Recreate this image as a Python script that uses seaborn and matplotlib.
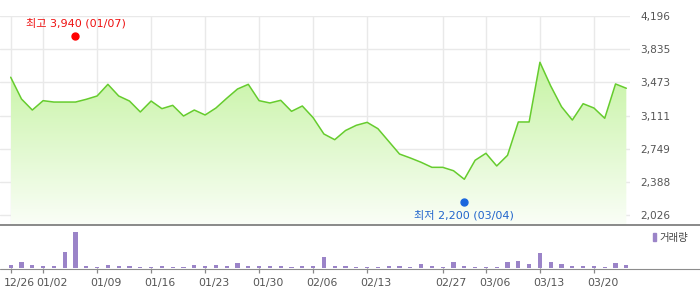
import numpy as np
import pandas as pd
import matplotlib
matplotlib.use("Agg")
import matplotlib.pyplot as plt
import matplotlib.transforms as mtrans
import seaborn as sns
from matplotlib.patches import Rectangle, Polygon
from matplotlib.lines import Line2D

# ---------------- data ----------------
prices = [3529, 3292, 3172, 3274, 3259, 3259, 3259, 3289, 3325, 3452,
          3325, 3270, 3151, 3270, 3187, 3223, 3107, 3172, 3118, 3194,
          3300, 3401, 3452, 3274, 3249, 3278, 3158, 3216, 3089, 2911,
          2849, 2949, 3006, 3038, 2969, 2831, 2693, 2650, 2603, 2548,
          2548, 2511, 2418, 2625, 2701, 2563, 2679, 3042, 3042, 3692,
          3434, 3208, 3063, 3241, 3194, 3082, 3456, 3409]
volumes = [10, 19, 10, 7, 7, 49, 109, 7, 4, 10,
           7, 7, 4, 4, 7, 4, 4, 10, 7, 10,
           7, 16, 7, 7, 7, 7, 4, 7, 7, 34,
           7, 7, 4, 4, 4, 7, 7, 4, 13, 7,
           4, 19, 7, 4, 4, 4, 19, 22, 13, 46,
           19, 13, 7, 7, 7, 4, 16, 10]
tick_pos = [0, 3, 8, 13, 18, 23, 28, 33, 40, 44, 49, 54]
tick_labels = ["12/26", "01/02", "01/09", "01/16", "01/23", "01/30",
               "02/06", "02/13", "02/27", "03/06", "03/13", "03/20"]
y_ticks = [2026, 2388, 2749, 3111, 3473, 3835, 4196]
high_idx, high_val, high_label = 6, 3940, "최고 3,940 (01/07)"
low_idx, low_val, low_label = 42, 2200, "최저 2,200 (03/04)"
legend_label = "거래량"

idx = list(range(len(prices)))
df = pd.DataFrame({"idx": idx, "price": prices, "vol": volumes})

# ---------------- style ----------------
sns.set_theme(style="white")
plt.rcParams['font.family'] = ['DejaVu Sans', 'Noto Sans CJK KR']
TFONT = ['DejaVu Sans', 'Noto Sans CJK KR']
KFONT = ['Noto Sans CJK KR', 'DejaVu Sans']

W, H = 700, 289
fig = plt.figure(figsize=(7, 2.89), dpi=100)

def fx(px):
    return px / W

def fy(py):
    return 1 - py / H

XL = (-0.99, 57.34)
# price axes: pixel top 16, bottom 225, x 0..630
ax = fig.add_axes([0, fy(225), fx(630), fy(16) - fy(225)])
ax.set_xlim(*XL)
ax.set_ylim(1920, 4196)
for s in ax.spines.values():
    s.set_visible(False)

grid_c = "#e9e9e9"
for yv in y_ticks:
    ax.axhline(yv, color=grid_c, lw=1, zorder=0)
for xv in tick_pos:
    ax.axvline(xv, color=grid_c, lw=1, zorder=0)

# gradient fill under line
verts = [(0, 1920)] + list(zip(idx, prices)) + [(idx[-1], 1920)]
poly = Polygon(verts, closed=True, facecolor="none", edgecolor="none")
ax.add_patch(poly)
top_c = np.array(matplotlib.colors.to_rgb("#c4f3a0"))
bot_c = np.array(matplotlib.colors.to_rgb("#fafef7"))
n = 256
tgrad = np.linspace(0, 1, n)[:, None]
img = top_c[None, None, :] * (1 - tgrad[:, :, None]) + bot_c[None, None, :] * tgrad[:, :, None]
img = np.repeat(img, 2, axis=1)
im = ax.imshow(img, extent=[0, idx[-1], 1920, 3750], origin="upper",
               aspect="auto", zorder=1, interpolation="bilinear")
im.set_clip_path(poly)
ax.set_xlim(*XL)
ax.set_ylim(1920, 4196)

sns.lineplot(data=df, x="idx", y="price", ax=ax, color="#66cc2e", lw=1.1, zorder=3)

ax.set_xlabel("")
ax.set_ylabel("")
ax.set_xticks([])
ax.yaxis.tick_right()
ax.set_yticks(y_ticks)
ax.set_yticklabels([f"{v:,}" for v in y_ticks])
ax.tick_params(axis="y", length=0, pad=7.2, labelsize=7.6, labelcolor="#555555")
ax.set_ylim(1920, 4196)

# high / low markers (dots nudged a few pixels away from the line, as in the reference)
up = ax.transData + mtrans.ScaledTranslation(0, 4 / 100, fig.dpi_scale_trans)
dn = ax.transData + mtrans.ScaledTranslation(0, -3 / 100, fig.dpi_scale_trans)
ax.plot([high_idx], [high_val], "o", color="#ff0000", ms=5, zorder=4,
        clip_on=False, transform=up)
ax.annotate(high_label, (high_idx, high_val), xycoords=up, xytext=(0, 12.5),
            textcoords="offset pixels", ha="center", va="center",
            color="#ee1111", fontsize=8, family=TFONT)
ax.plot([low_idx], [low_val], "o", color="#1a66dd", ms=5, zorder=4,
        clip_on=False, transform=dn)
ax.annotate(low_label, (low_idx, low_val), xycoords=dn, xytext=(0, -12.7),
            textcoords="offset pixels", ha="center", va="center",
            color="#2266cc", fontsize=8, family=TFONT)

# volume axes: pixel top 225, baseline 268
axv = fig.add_axes([0, fy(268), fx(630), fy(225) - fy(268)])
sns.barplot(data=df, x="idx", y="vol", native_scale=True, width=0.4,
            color="#9b84c8", saturation=1, edgecolor="none", linewidth=0, ax=axv)
axv.set_xlim(*XL)
axv.set_ylim(0, 129)
for s in axv.spines.values():
    s.set_visible(False)
axv.set_xlabel("")
axv.set_ylabel("")
axv.set_yticks([])
axv.set_xticks(tick_pos)
axv.set_xticklabels(tick_labels)
axv.tick_params(axis="x", bottom=True, length=3.6, width=0.9, color="#888888",
                pad=3.5, labelsize=7.8, labelcolor="#555555", direction="out")
shift = mtrans.ScaledTranslation(-7 / 100, 0, fig.dpi_scale_trans)
for lab in axv.get_xticklabels():
    lab.set_horizontalalignment("left")
    lab.set_transform(lab.get_transform() + shift)

# separator and baseline across full width
fig.add_artist(Line2D([0, 1], [fy(225.3), fy(225.3)], color="#808080", lw=1.3,
                      transform=fig.transFigure))
fig.add_artist(Line2D([0, 1], [fy(268.6), fy(268.6)], color="#8c8c8c", lw=0.8,
                      transform=fig.transFigure))

# legend
fig.add_artist(Rectangle((fx(653), fy(241)), fx(3), fy(233) - fy(241),
                         transform=fig.transFigure, color="#9b84c8"))
fig.text(fx(659), fy(237.5), legend_label, ha="left", va="center", fontsize=7.5,
         color="#444444", family=KFONT)

fig.savefig("out.png", dpi=100)
